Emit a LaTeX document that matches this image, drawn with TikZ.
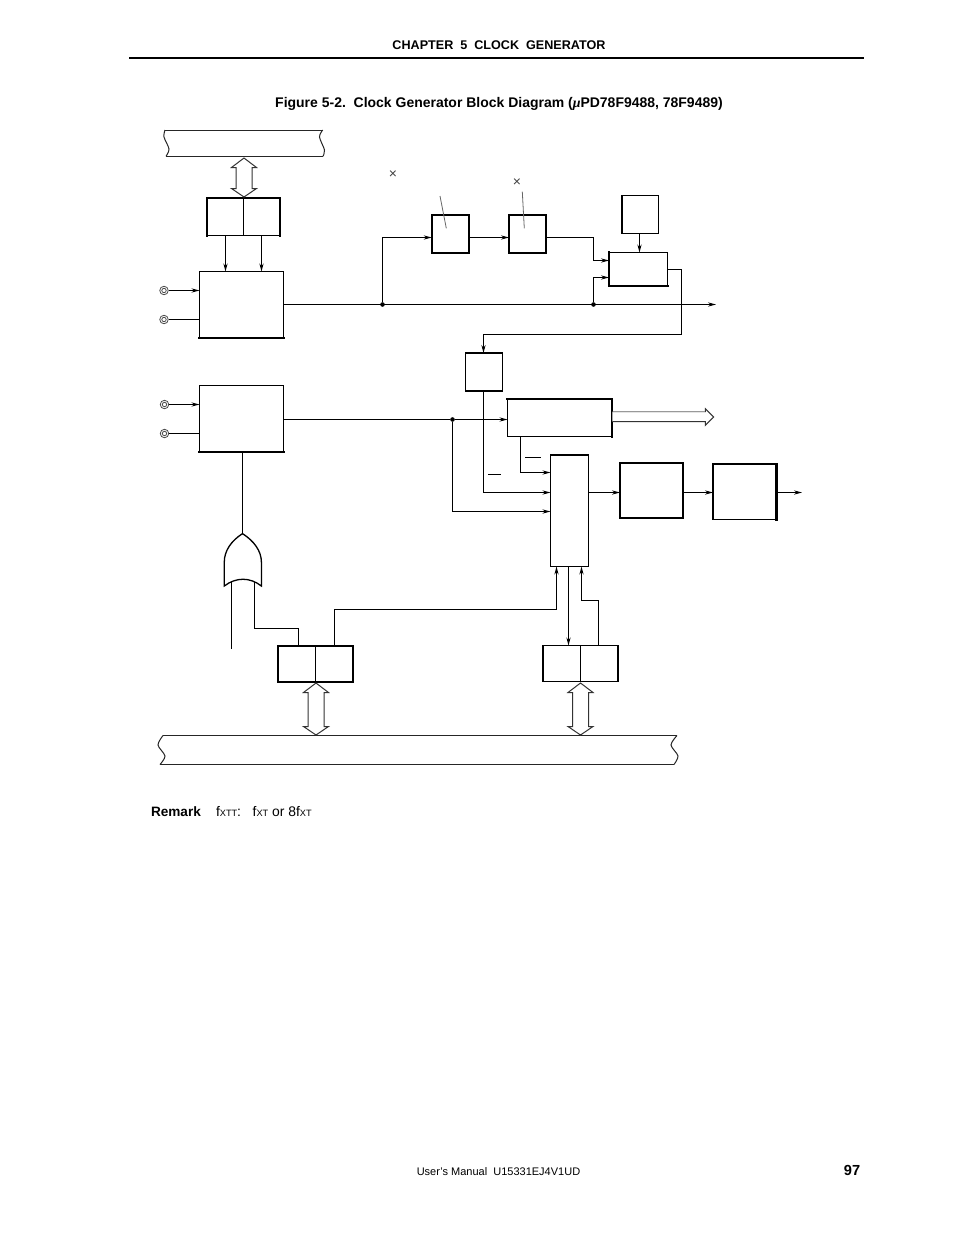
\documentclass[tikz,border=0pt]{standalone}
\usepackage{fontspec}
\setmainfont{Liberation Sans}
\newfontfamily\serifgreek{Liberation Serif}
\usetikzlibrary{arrows.meta}
\tikzset{
  lineone/.style={line width=1.15pt,black},
  arr/.style={lineone,-{Stealth[length=8pt,width=4.2pt]}},
  box/.style={draw=black,line width=1.15pt,fill=white,inner sep=0pt,outer sep=0pt,rectangle},
  heavy/.style={line width=2.3pt,black,line cap=rect},
  dotnode/.style={circle,fill=black,inner sep=0pt,minimum size=4.6pt},
  pin/.style={circle,draw=black!70,line width=.8pt,fill=white,inner sep=0pt,minimum size=8.5pt},
  pinin/.style={circle,draw=black!70,line width=.8pt,inner sep=0pt,minimum size=4.4pt},
  wide/.style={draw=black!80,line width=1pt,fill=white,line join=miter},
  bus/.style={draw=black!85,line width=1pt},
  tick/.style={draw=black!60,line width=.8pt},
  txt/.style={inner sep=0pt,outer sep=0pt,text=black}
}
% name, x1, y1, x2, y2
\newcommand{\bx}[5]{\node[box,minimum width={(#4-#2)*1pt},minimum height={(#5-#3)*1pt}] (#1) at ({(#2+#4)/2},{(#3+#5)/2}) {};}
\newcommand{\vwide}[3]{\draw[wide] (#1,#2)--({#1-12.5},{#2+9.5})--({#1-8},{#2+9.5})--({#1-8},{#3-8.5})--({#1-12.5},{#3-8.5})--(#1,#3)--({#1+12.5},{#3-8.5})--({#1+8},{#3-8.5})--({#1+8},{#2+9.5})--({#1+12.5},{#2+9.5})--cycle;}
\begin{document}
\begin{tikzpicture}[x=1pt,y=-1pt]
\useasboundingbox (0,0) rectangle (954,1235);
\fill[white] (0,0) rectangle (954,1235);
% page furniture
\node[txt,font=\bfseries\fontsize{12.6}{14}\selectfont] (hdr) at (499,45.5) {CHAPTER\ \ 5\ \ CLOCK\ \ GENERATOR};
\coordinate (ruleL) at (129,58); \coordinate (ruleR) at (864,58);
\draw[line width=1.4pt] (ruleL)--(ruleR);
\node[txt,font=\bfseries\fontsize{13.98}{16}\selectfont] (ttl) at (499,103.5) {Figure 5-2.\ \ Clock Generator Block Diagram ({\serifgreek\itshape μ}PD78F9488, 78F9489)};
\node[txt,anchor=base west,font=\bfseries\fontsize{13.6}{16}\selectfont] (rem) at (151,816) {Remark};
\node[txt,anchor=base west,font=\fontsize{13.9}{16}\selectfont] (remb) at (216,816) {f{\fontsize{9.2}{10}\selectfont XTT}:\ \ \ f{\fontsize{9.2}{10}\selectfont XT} or 8f{\fontsize{9.2}{10}\selectfont XT}};
\node[txt,font=\fontsize{11}{13}\selectfont] (foot) at (498.5,1172) {User’s Manual\ \ U15331EJ4V1UD};
\node[txt,font=\bfseries\fontsize{14.6}{16}\selectfont] (pg) at (852,1170) {97};

% buses
\draw[bus] (165,130)--(322.7,130);
\draw[bus] (166,156.3)--(323,156.3);
\draw[bus] plot[smooth] coordinates {(165,130)(164,137)(169,149)(166,156.3)};
\draw[bus] plot[smooth] coordinates {(322.7,130)(319.5,137)(324.5,150)(323,156.3)};
\draw[bus] (163,735.5)--(677,735.5);
\draw[bus] (160,764.5)--(674,764.5);
\draw[bus] plot[smooth] coordinates {(163,735.5)(158,745)(165,756)(160,764.5)};
\draw[bus] plot[smooth] coordinates {(677,735.5)(671,745)(678,756)(674,764.5)};

% boxes
\bx{regA}{207}{198}{280}{235.5}
\bx{oscA}{199.5}{271.5}{283.5}{338}
\bx{oscB}{199.5}{385.5}{283.5}{451.7}
\bx{divA}{431.7}{215}{469.3}{253}
\bx{divB}{509}{215}{546.3}{253}
\bx{sel}{609}{252.5}{667.5}{286}
\bx{ctl}{622}{195.5}{658.5}{233.5}
\bx{gate}{465.7}{353}{502.3}{391}
\bx{pre}{507.5}{399}{612.3}{436.5}
\bx{mux}{550.5}{454.7}{588.5}{566.5}
\bx{cpu}{620}{463}{683.3}{518}
\bx{per}{713}{464}{776.5}{519.5}
\bx{regB}{278}{645.7}{353}{682}
\bx{regC}{543}{645.5}{618}{681.5}
% register dividers
\draw[lineone] (regA.north)--(regA.south);
\draw[lineone] (regB.north)--(regB.south);
\draw[lineone] (regC.north)--(regC.south);
% heavy edges
\draw[heavy] (regA.south west)--(regA.north west)--(regA.north east)--(regA.south east);
\draw[heavy] (oscA.south west)--(oscA.south east);
\draw[heavy] (oscB.south west)--(oscB.south east);
\draw[heavy] (divA.north west) rectangle (divA.south east);
\draw[heavy] (divB.north west) rectangle (divB.south east);
\draw[heavy] (sel.south west)--(sel.south east);
\draw[heavy] (sel.north west)--(sel.south west);
\draw[line width=1.6pt] (ctl.north west)--(ctl.south west);
\draw[heavy] (gate.north west)--(gate.north east);
\draw[heavy] (gate.south west)--(gate.south east);
\draw[heavy] (pre.north west)--(pre.north east)--(pre.south east);
\draw[line width=1.6pt] (mux.north west)--(mux.north east);
\draw[heavy] (cpu.north west) rectangle (cpu.south east);
\draw[heavy] (per.north west)--(per.north east)--(per.south east);
\draw[heavy] (regB.north west) rectangle (regB.south east);
\draw[line width=1.6pt] (regC.south west)--(regC.south east);
\draw[line width=1.6pt] (regC.north west)--(regC.south west);
\draw[line width=1.6pt] (regC.north east)--(regC.south east);

% wide bus arrows
\vwide{244}{158}{197}
\vwide{316}{683}{735}
\vwide{580.5}{683}{735}
\draw[wide] (612.3,421.7)--(705.3,421.7)--(705.3,425.3)--(713.7,417)--(705.3,408.7)--(705.3,411.7)--(612.3,411.7);
\draw[draw=black!40,line width=1.4pt] (613,411.7)--(704.8,411.7);

% pins
\node[pin] (p1) at (164,290.5) {}; \node[pinin] at (p1) {};
\node[pin] (p2) at (164,319.5) {}; \node[pinin] at (p2) {};
\node[pin] (p3) at (164.5,404.5) {}; \node[pinin] at (p3) {};
\node[pin] (p4) at (164.5,433.5) {}; \node[pinin] at (p4) {};
\coordinate (a1) at (oscA.west |- p1); \coordinate (a2) at (oscA.west |- p2);
\coordinate (b1) at (oscB.west |- p3); \coordinate (b2) at (oscB.west |- p4);
\draw[arr] (p1)--(a1);
\draw[lineone] (p2)--(a2);
\draw[arr] (p3)--(b1);
\draw[lineone] (p4)--(b2);

% register to oscillator
\coordinate (ra1) at (225.5,235.5); \coordinate (ra2) at (261.5,235.5);
\draw[arr] (ra1)--(ra1 |- oscA.north);
\draw[arr] (ra2)--(ra2 |- oscA.north);

% main clock line
\coordinate (oa) at (283.5,304.5);
\coordinate (endA) at (716,304.5);
\node[dotnode] (d1) at (382.5,304.5) {};
\node[dotnode] (d2) at (593.5,304.5) {};
\draw[arr] (oa)--(endA);
\coordinate (l1) at (431.7,237.5);
\coordinate (l2) at (509,237.5);
\coordinate (l3) at (546.3,237.5);
\coordinate (l4) at (469.3,237.5);
\draw[arr] (d1) |- (l1);
\draw[arr] (l4)--(l2);
\coordinate (s1) at (609,260.5); \coordinate (s2) at (609,277.5);
\draw[arr] (l3)-|(593.5,260.5)--(s1);
\draw[arr] (d2) |- (s2);
\coordinate (c1) at (639.5,233.5); \coordinate (c2) at (639.5,252.5);
\draw[arr] (c1)--(c2);
\coordinate (so) at (667.5,269.5); \coordinate (gi) at (483.5,353);
\draw[arr] (so)-|(681.5,334.5)-|(gi);

% slanted marks and multiplication signs
\coordinate (m1a) at (440,196); \coordinate (m1b) at (446.3,228.3);
\coordinate (m2a) at (522.3,191.7); \coordinate (m2b) at (524.3,228.3);
\draw[tick] (m1a)--(m1b);
\draw[tick] (m2a)--(m2b);
\node[txt,text=black!75,font=\fontsize{14}{14}\selectfont] (x1) at (393,174.8) {×};
\node[txt,text=black!75,font=\fontsize{14}{14}\selectfont] (x2) at (517,182.8) {×};

% subsystem line
\coordinate (ob) at (283.5,419.5);
\coordinate (pi) at (507.5,419.5);
\node[dotnode] (d3) at (452.5,419.5) {};
\draw[lineone] (ob)--(d3);
\coordinate (g0) at (483.5,391);
\coordinate (mi2) at (550.5,492.5);
\coordinate (mi3) at (550.5,511.5);
\coordinate (mi1) at (550.5,472.5);
\coordinate (p0) at (520.5,436.5);
\draw[arr] (g0)|-(mi2);
\draw[arr] (d3)--(pi);
\draw[arr] (d3)|-(mi3);
\draw[arr] (p0)|-(mi1);
\coordinate (ol1a) at (525,457.5); \coordinate (ol1b) at (541,457.5);
\coordinate (ol2a) at (488,474.5); \coordinate (ol2b) at (501,474.5);
\draw[lineone] (ol1a)--(ol1b);
\draw[lineone] (ol2a)--(ol2b);
\coordinate (mo) at (588.5,492.5); \coordinate (ci) at (620,492.5);
\coordinate (co) at (683.3,492.5); \coordinate (ei) at (713,492.5);
\coordinate (eo) at (776.5,492.5); \coordinate (endB) at (802,492.5);
\draw[arr] (mo)--(ci);
\draw[arr] (co)--(ei);
\draw[arr] (eo)--(endB);

% OR gate
\coordinate (tip) at (242.5,533.6);
\draw[line width=1.3pt,fill=white] (tip) .. controls (231,541) and (224.3,551) .. (224.3,562) -- (224.3,586) .. controls (236,577) and (250,577) .. (261.4,586) -- (261.4,562) .. controls (261.4,551) and (254,541) .. (tip) -- cycle;
\draw[lineone] (oscB.south -| tip)--(tip);
\coordinate (o1) at (231.5,581.5); \coordinate (o1e) at (231.5,648.5);
\coordinate (o2) at (254.5,581.5);
\coordinate (rb1) at (298.5,645.7);
\draw[lineone] (o1)--(o1e);
\draw[lineone] (o2)|-(276,628.5)-|(rb1);

% registers to mux
\coordinate (rb2) at (334.5,645.7);
\coordinate (mb1) at (556.5,566.5);
\draw[arr] (rb2)|-(440,609.5)-|(mb1);
\coordinate (mb2) at (568.5,566.5); \coordinate (rc1) at (568.5,645.5);
\draw[arr] (mb2)--(rc1);
\coordinate (rc2) at (598.5,645.5); \coordinate (mb3) at (581.5,566.5);
\draw[arr] (rc2)|-(590,600.5)-|(mb3);
\end{tikzpicture}
\end{document}
